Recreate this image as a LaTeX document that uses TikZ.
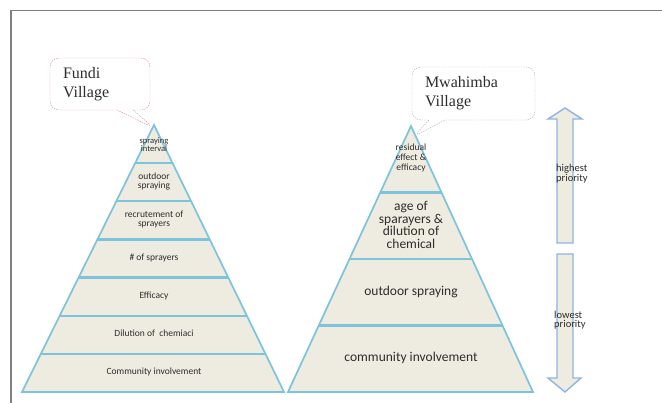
\documentclass[tikz,border=0pt]{standalone}
\usepackage{fontspec}
\setmainfont{Carlito}
\newfontfamily\villagefont{Liberation Serif}
\usetikzlibrary{calc,shapes.callouts}

\definecolor{fig-layer}{RGB}{238,236,225}
\definecolor{fig-edge}{RGB}{125,195,220}
\definecolor{fig-arrow}{RGB}{141,180,227}
\definecolor{fig-frame}{RGB}{128,128,128}
\definecolor{fig-text}{RGB}{45,45,45}
\definecolor{fig-pink}{RGB}{220,140,150}
\definecolor{fig-grey}{RGB}{175,175,175}

\begin{document}
\begin{tikzpicture}[x=1pt,y=-1pt,
    layer/.style={fill=fig-layer,draw=fig-edge,line width=1.7pt},
    sep/.style={draw=fig-edge,line width=2.3pt},
    small/.style={font=\fontsize{9.5}{9}\selectfont,text=fig-text,align=center,inner sep=0pt},
    big/.style={font=\fontsize{13.5}{12.7}\selectfont,text=fig-text,align=center,inner sep=0pt},
    villagebox/.style={rectangle callout,draw=#1,dash pattern=on 1.5pt off 1pt,
      rounded corners=9pt,callout pointer width=16pt,align=left,
      font=\villagefont\fontsize{16}{19}\selectfont,text=fig-text},
    prio/.style={fill=fig-layer,draw=fig-arrow,line width=1.4pt}]
    \useasboundingbox (0,0) rectangle (662,403);
    \draw[fig-frame,line width=1.5pt] (11,403) -- (11,10.5) -- (662,10.5);

    % Fundi Village
    \coordinate (ltop) at (154,125);
    \coordinate (lbl) at (22,392);
    \coordinate (lbr) at (284,392);
    \draw[layer] (ltop) -- (lbr) -- (lbl) -- cycle;
    \foreach \k in {1,...,6}
      \draw[sep] ($(ltop)!\k/7!(lbl)$) -- ($(ltop)!\k/7!(lbr)$);
    \node[small,font=\fontsize{8.5}{8}\selectfont] (f1) at (154,145) {spraying\\interval};
    \node[small] (f2) at (154,182) {outdoor\\spraying};
    \node[small] (f3) at (154,220) {recrutement of\\sprayers};
    \node[small] (f4) at (154,258) {\# of sprayers};
    \node[small] (f5) at (154,296) {Efficacy};
    \node[small] (f6) at (154,333) {Dilution of\ \ chemiaci};
    \node[small] (f7) at (154,372) {Community involvement};

    \coordinate (fundipin) at (154,128);
    \node[villagebox=fig-pink,callout absolute pointer={(fundipin)},
      minimum width=100pt,minimum height=52pt,text width=74pt] (fundi) at (100,84) {Fundi\\Village};

    % Mwahimba Village
    \coordinate (rtop) at (411,126);
    \coordinate (rbl) at (288,392);
    \coordinate (rbr) at (533,392);
    \draw[layer] (rtop) -- (rbr) -- (rbl) -- cycle;
    \foreach \k in {1,2,3}
      \draw[sep] ($(rtop)!\k/4!(rbl)$) -- ($(rtop)!\k/4!(rbr)$);
    \node[small,font=\fontsize{9.5}{10}\selectfont] (m1) at (411,158) {residual\\effect \&\\efficacy};
    \node[big] (m2) at (411,225) {age of\\sparayers \&\\dilution of\\chemical};
    \node[big] (m3) at (411,292) {outdoor spraying};
    \node[big] (m4) at (411,358) {community involvement};

    \coordinate (mwapin) at (413,137);
    \node[villagebox=fig-grey,callout absolute pointer={(mwapin)},
      minimum width=123pt,minimum height=53pt,text width=97pt] (mwahimba) at (473.5,93.5) {Mwahimba\\Village};

    % priority arrows
    \draw[prio] (557,243) -- (557,119) -- (548,119) -- (565,108) -- (582,119)
      -- (573,119) -- (573,243) -- cycle;
    \draw[prio] (557,254) -- (557,378) -- (548,378) -- (565,392) -- (581,378)
      -- (573,378) -- (573,254) -- cycle;
    \node[small,font=\fontsize{10.5}{9}\selectfont,align=left,anchor=west] (high) at (556,174) {highest\\priority};
    \node[small,font=\fontsize{10.5}{9}\selectfont,align=left,anchor=west] (low) at (554,320) {lowest\\priority};
  \end{tikzpicture}
\end{document}
